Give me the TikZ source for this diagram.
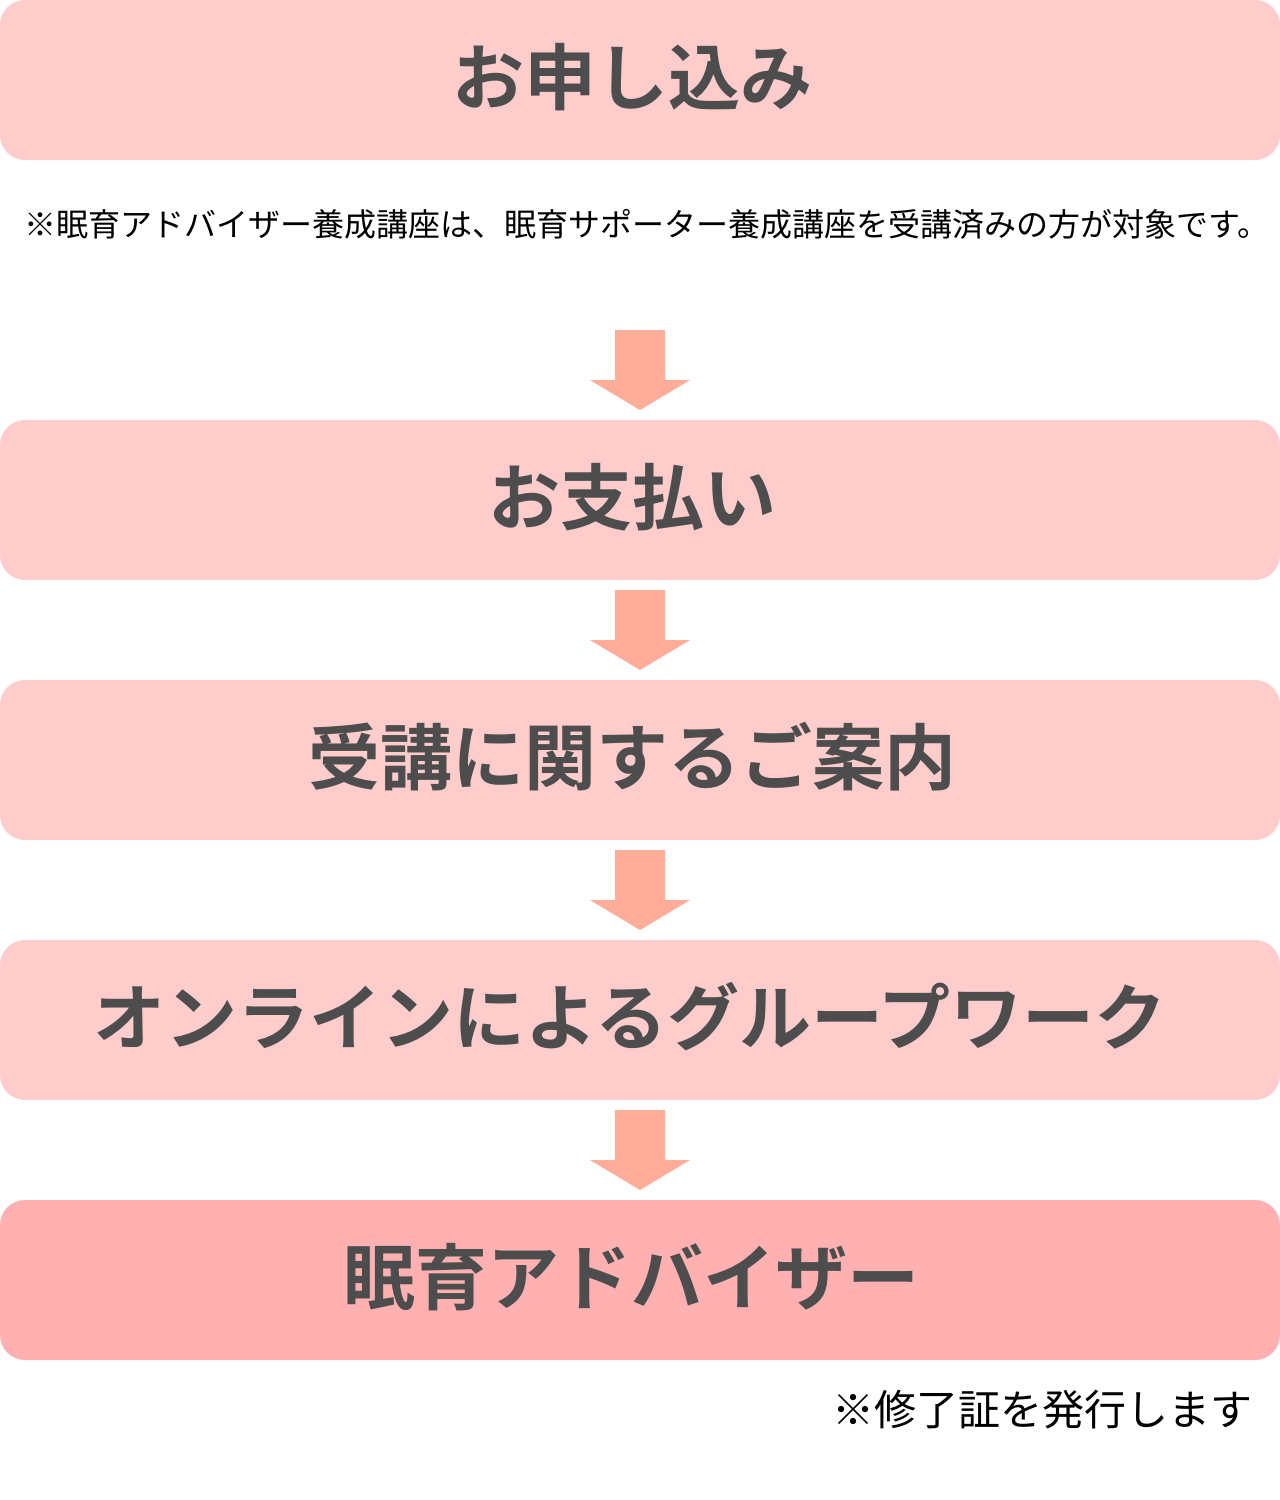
\documentclass[tikz,border=0pt]{standalone}
\usepackage{fontspec}
\newfontfamily\jpfont{Noto Sans CJK JP}
\newfontfamily\jpbold{Noto Sans CJK JP Bold}
\definecolor{boxpink}{HTML}{FFCCCC}
\definecolor{boxlast}{HTML}{FFB1B1}
\definecolor{arrowcol}{HTML}{FFAD99}
\definecolor{txtgray}{HTML}{4D4D4D}
\begin{document}
\begin{tikzpicture}[x=1pt,y=-1pt,
  stepbox/.style={fill=boxpink,rounded corners=25pt},
  steptext/.style={font=\jpbold\fontsize{72}{80}\selectfont,text=txtgray,inner sep=0pt,anchor=center},
  notetext/.style={font=\jpfont\fontsize{32}{36}\selectfont,text=black,inner sep=0pt},
  downarrow/.style={fill=arrowcol}]
\useasboundingbox (0,0) rectangle (1280,1500);
% boxes
\fill[stepbox] (0,0) rectangle (1280,160);
\fill[stepbox] (0,420) rectangle (1280,580);
\fill[stepbox] (0,680) rectangle (1280,840);
\fill[stepbox] (0,940) rectangle (1280,1100);
\fill[stepbox,fill=boxlast] (0,1200) rectangle (1280,1360);
% texts
\node[steptext] (s1) at (632,77) {お申し込み};
\node[steptext] (s2) at (632,497) {お支払い};
\node[steptext] (s3) at (632,757) {受講に関するご案内};
\node[steptext] (s4) at (630,1017) {オンラインによるグループワーク};
\node[steptext] (s5) at (631,1277) {眠育アドバイザー};
\node[notetext,anchor=center] (n1) at (647,224) {※眠育アドバイザー養成講座は、眠育サポーター養成講座を受講済みの方が対象です。};
\node[notetext,font=\jpfont\fontsize{42}{46}\selectfont,anchor=east] (n2) at (1253,1410) {※修了証を発行します};
% arrows
\foreach \t in {330,590,850,1110}{
  \fill[downarrow] (615,\t) -- (665,\t) -- (665,\t+50) -- (690,\t+50) -- (640,\t+80) -- (590,\t+50) -- (615,\t+50) -- cycle;
}
\end{tikzpicture}
\end{document}
